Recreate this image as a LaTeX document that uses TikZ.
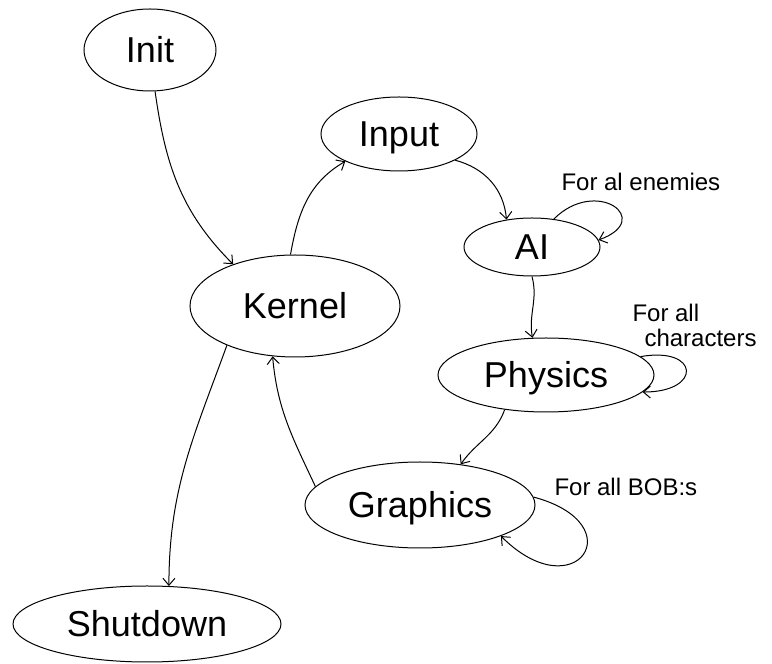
\documentclass[tikz,border=0pt]{standalone}
\usepackage{fontspec}
\setmainfont{Liberation Sans}
\usetikzlibrary{shapes.geometric,arrows.meta}

\begin{document}
\begin{tikzpicture}[x=1pt, y=1pt, line width=1pt,
	>={Straight Barb[length=7pt,width=12pt]},
	state/.style={draw, ellipse, inner sep=0pt, text height=26pt, text depth=0pt,
		font=\fontsize{36}{40}\selectfont},
	lbl/.style={inner sep=0pt, font=\fontsize{24}{25}\selectfont}]
\useasboundingbox (0,0) rectangle (772,664);

% the states
\node[state, minimum width=132pt, minimum height=82pt] (init) at (150,614) {Init};
\node[state, minimum width=156pt, minimum height=74pt] (input) at (399,530) {Input};
\node[state, minimum width=136pt, minimum height=58pt] (ai) at (532,417) {AI};
\node[state, minimum width=210pt, minimum height=102pt] (kernel) at (295,358) {Kernel};
\node[state, minimum width=216pt, minimum height=74pt] (physics) at (546,289) {Physics};
\node[state, minimum width=230pt, minimum height=86pt] (graphics) at (420,159) {Graphics};
\node[state, minimum width=268pt, minimum height=76pt] (shutdown) at (147,40) {Shutdown};

% loop labels
\node[lbl, anchor=west] (enemies) at (561,482) {For al enemies};
\node[lbl, anchor=west, align=left] (chars) at (632,339) {For all\\\hspace*{12pt}characters};
\node[lbl, anchor=west] (bobs) at (554,177) {For all BOB:s};

% transitions
\draw[->] (init.-83) to[out=-82, in=135] (kernel.146);
\draw[->] (kernel.95) to[out=80, in=-150] (input.207);
\draw[->] (input.-25) to[out=-15, in=95] (ai.133);
\draw[->] (ai.52) to[out=45, in=20, distance=60pt] (ai.6);
\draw[->] (ai.south) to[out=-75, in=100] (physics.110);
\draw[->] (physics.11) to[out=10, in=0, distance=60pt] (physics.-10);
\draw[->] (physics.-140) to[out=-110, in=55] (graphics.45);
\draw[->] (graphics.4) to[out=-15, in=-45, distance=105pt] (graphics.-21);
\draw[->] (graphics.170) to[out=115, in=-85] (kernel.246);
\draw[->] (kernel.210) to[out=-110, in=90] (shutdown.60);
\end{tikzpicture}
\end{document}
